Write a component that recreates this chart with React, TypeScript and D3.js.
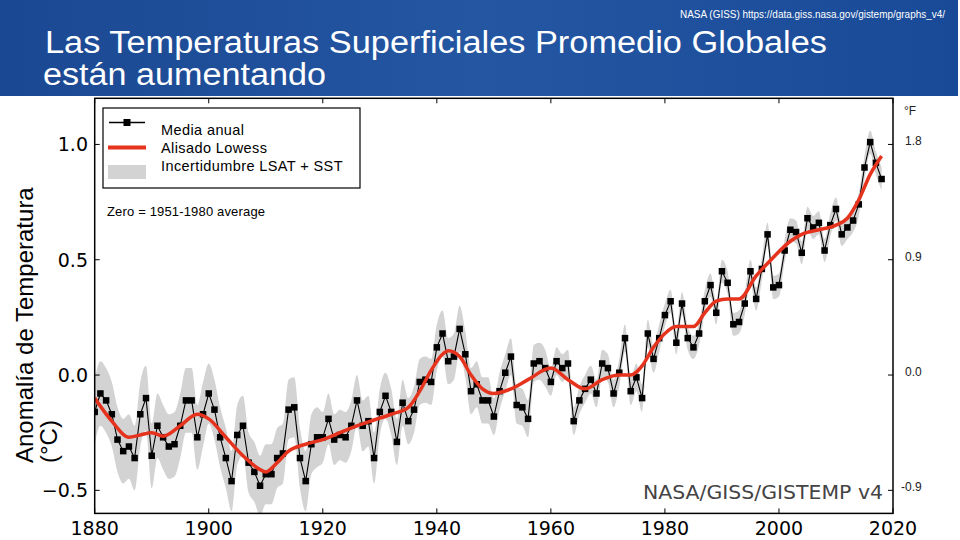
import React from 'react';
import * as d3 from 'd3';

// ---------- data ----------
const startYear = 1880;
const annualMean = [
  -0.16, -0.08, -0.11, -0.17, -0.28, -0.33, -0.31, -0.36, -0.17, -0.10,
  -0.35, -0.22, -0.27, -0.31, -0.30, -0.22, -0.11, -0.11, -0.27, -0.17,
  -0.08, -0.15, -0.27, -0.36, -0.46, -0.26, -0.22, -0.38, -0.42, -0.48,
  -0.43, -0.43, -0.36, -0.34, -0.15, -0.14, -0.36, -0.46, -0.30, -0.27,
  -0.27, -0.19, -0.28, -0.26, -0.27, -0.22, -0.11, -0.22, -0.20, -0.36,
  -0.16, -0.09, -0.16, -0.29, -0.12, -0.20, -0.15, -0.03, -0.02, -0.03,
  0.12, 0.18, 0.06, 0.08, 0.20, 0.09, -0.07, -0.04, -0.11, -0.11,
  -0.18, -0.07, 0.01, 0.08, -0.13, -0.14, -0.19, 0.05, 0.06, 0.03,
  -0.03, 0.06, 0.03, 0.05, -0.20, -0.11, -0.06, -0.02, -0.08, 0.05,
  0.03, -0.08, 0.01, 0.16, -0.07, -0.01, -0.10, 0.18, 0.07, 0.16,
  0.26, 0.32, 0.14, 0.31, 0.16, 0.12, 0.18, 0.32, 0.39, 0.27,
  0.45, 0.40, 0.22, 0.23, 0.31, 0.45, 0.33, 0.46, 0.61, 0.38,
  0.39, 0.54, 0.63, 0.62, 0.53, 0.68, 0.64, 0.66, 0.54, 0.65,
  0.72, 0.61, 0.64, 0.67, 0.74, 0.90, 1.01, 0.92, 0.85,
];

const lowessYears = [
  1880, 1883, 1886, 1888, 1890, 1892, 1895, 1898, 1900, 1903, 1906, 1909, 1910,
  1912, 1914, 1917, 1920, 1923, 1926, 1929, 1932, 1935, 1937, 1939, 1941, 1942,
  1944, 1946, 1948, 1950, 1953, 1956, 1960, 1963, 1966, 1969, 1972, 1974, 1976,
  1978, 1980, 1982, 1985, 1987, 1989, 1991, 1993, 1996, 1999, 2002, 2004, 2007,
  2010, 2012, 2014, 2016, 2018,
];
const lowessValues = [
  -0.10, -0.20, -0.27, -0.26, -0.25, -0.265, -0.22, -0.17, -0.19, -0.27, -0.35, -0.41, -0.42,
  -0.38, -0.33, -0.30, -0.28, -0.25, -0.22, -0.195, -0.17, -0.14, -0.07, 0.02, 0.09, 0.105,
  0.08, 0.00, -0.06, -0.08, -0.06, -0.02, 0.03, -0.02, -0.06, -0.02, 0.00, 0.00, 0.04,
  0.12, 0.18, 0.21, 0.21, 0.27, 0.32, 0.33, 0.33, 0.43, 0.51, 0.58, 0.61, 0.63,
  0.65, 0.68, 0.76, 0.87, 0.95,
];

const uncertaintyDecades = [1880, 1890, 1900, 1910, 1920, 1930, 1940, 1950, 1960, 1970, 1980, 1990, 2000, 2010];
const uncertaintyHalfWidth = [0.14, 0.14, 0.13, 0.13, 0.11, 0.10, 0.10, 0.08, 0.06, 0.06, 0.05, 0.05, 0.05, 0.05];

const xTicks = [1880, 1900, 1920, 1940, 1960, 1980, 2000, 2020];
const yTicksC = [-0.5, 0.0, 0.5, 1.0];
const yTicksF = [-0.9, 0.0, 0.9, 1.8];

const legendLabels = ['Media anual', 'Alisado Lowess', 'Incertidumbre LSAT + SST'];
const titleLines = ['Las Temperaturas Superficiales Promedio Globales', 'están aumentando'];
const sourceText = 'NASA (GISS) https://data.giss.nasa.gov/gistemp/graphs_v4/';

// ---------- layout ----------
const W = 960;
const H = 540;
const plotLeft = 94.7;
const plotRight = 893;
const plotTop = 98.3;
const plotBottom = 513.4;

const RED = '#e5331d';
const BAND = '#d3d3d3';

export default function App() {
  const x = d3.scaleLinear().domain([1880, 2020]).range([plotLeft, plotRight]);
  const y = d3.scaleLinear().domain([-0.6, 1.2]).range([plotBottom, plotTop]);

  const annual = annualMean.map((v, i) => ({ year: startYear + i, v }));
  const halfWidth = (yr: number) => {
    const idx = uncertaintyDecades.findIndex((d) => yr >= d && yr < d + 10);
    return uncertaintyHalfWidth[idx >= 0 ? idx : uncertaintyHalfWidth.length - 1];
  };

  const bandArea = d3
    .area<{ year: number; v: number }>()
    .x((d) => x(d.year))
    .y0((d) => y(d.v - halfWidth(d.year)))
    .y1((d) => y(d.v + halfWidth(d.year)))
    .curve(d3.curveMonotoneX);

  const annualLine = d3
    .line<{ year: number; v: number }>()
    .x((d) => x(d.year))
    .y((d) => y(d.v));

  const lowess = lowessYears.map((yr, i) => ({ year: yr, v: lowessValues[i] }));
  const lowessLine = d3
    .line<{ year: number; v: number }>()
    .x((d) => x(d.year))
    .y((d) => y(d.v))
    .curve(d3.curveMonotoneX);

  const fToC = (f: number) => f / 1.8;
  const ms = 6.5;

  return (
    <svg
      width={W}
      height={H}
      viewBox={`0 0 ${W} ${H}`}
      style={{ position: 'absolute', left: 0, top: 0, background: '#fff' }}
    >
      <defs>
        <linearGradient id="hdr" x1="0" x2="1" y1="0" y2="0">
          <stop offset="0" stopColor="#1b4892" />
          <stop offset="0.5" stopColor="#2456a2" />
          <stop offset="1" stopColor="#184a98" />
        </linearGradient>
        <clipPath id="plotClip">
          <rect x={plotLeft} y={plotTop} width={plotRight - plotLeft} height={plotBottom - plotTop} />
        </clipPath>
      </defs>

      {/* header */}
      <rect x={0} y={0} width={958} height={96} fill="url(#hdr)" />
      <text
        x={680}
        y={18}
        fill="#fff"
        fontFamily="Liberation Sans, Arial, sans-serif"
        fontSize={10}
        textLength={265}
        lengthAdjust="spacingAndGlyphs"
      >
        {sourceText}
      </text>
      <text
        x={45}
        y={53}
        fill="#fff"
        fontFamily="Liberation Sans, Arial, sans-serif"
        fontSize={31}
        textLength={782}
        lengthAdjust="spacingAndGlyphs"
      >
        {titleLines[0]}
      </text>
      <text
        x={43}
        y={85}
        fill="#fff"
        fontFamily="Liberation Sans, Arial, sans-serif"
        fontSize={31}
        textLength={283}
        lengthAdjust="spacingAndGlyphs"
      >
        {titleLines[1]}
      </text>

      {/* data */}
      <g clipPath="url(#plotClip)">
        <path d={bandArea(annual) ?? ''} fill={BAND} stroke="none" />
        <path d={annualLine(annual) ?? ''} fill="none" stroke="#000" strokeWidth={1.1} />
        {annual.map((d) => (
          <rect key={d.year} x={x(d.year) - ms / 2} y={y(d.v) - ms / 2} width={ms} height={ms} fill="#000" />
        ))}
        <path d={lowessLine(lowess) ?? ''} fill="none" stroke={RED} strokeWidth={3.5} strokeLinecap="butt" />
      </g>

      {/* frame */}
      <rect
        x={plotLeft}
        y={plotTop}
        width={plotRight - plotLeft}
        height={plotBottom - plotTop}
        fill="none"
        stroke="#000"
        strokeWidth={1.5}
      />

      {/* x ticks */}
      {xTicks.map((t) => (
        <g key={t}>
          <line x1={x(t)} x2={x(t)} y1={plotBottom} y2={plotBottom - 5} stroke="#000" strokeWidth={1} />
          <line x1={x(t)} x2={x(t)} y1={plotTop} y2={plotTop + 5} stroke="#000" strokeWidth={1} />
          <text
            x={x(t)}
            y={535}
            textAnchor="middle"
            fontFamily="DejaVu Sans, sans-serif"
            fontSize={19}
            fill="#000"
          >
            {t}
          </text>
        </g>
      ))}

      {/* left y ticks */}
      {yTicksC.map((t) => (
        <g key={t}>
          <line x1={plotLeft} x2={plotLeft + 5} y1={y(t)} y2={y(t)} stroke="#000" strokeWidth={1} />
          <text
            x={88}
            y={y(t)}
            dy="0.36em"
            textAnchor="end"
            fontFamily="DejaVu Sans, sans-serif"
            fontSize={19}
            fill="#000"
          >
            {t < 0 ? '\u2212' + Math.abs(t).toFixed(1) : t.toFixed(1)}
          </text>
        </g>
      ))}

      {/* right °F ticks */}
      {yTicksF.map((t) => (
        <g key={t}>
          <line x1={plotRight} x2={plotRight - 5} y1={y(fToC(t))} y2={y(fToC(t))} stroke="#000" strokeWidth={1} />
          <text
            x={t < 0 ? 901 : 905}
            y={y(fToC(t)) + 1}
            fontFamily="Liberation Sans, Arial, sans-serif"
            fontSize={12}
            fill="#222"
          >
            {t.toFixed(1)}
          </text>
        </g>
      ))}
      <text x={904} y={115} fontFamily="Liberation Sans, Arial, sans-serif" fontSize={12} fill="#222">
        °F
      </text>

      {/* y-axis title */}
      <text
        transform="translate(33,463) rotate(-90)"
        fontFamily="Liberation Sans, Arial, sans-serif"
        fontSize={24}
        fill="#000"
      >
        Anomalía de Temperatura
      </text>
      <text
        transform="translate(57,463) rotate(-90)"
        fontFamily="Liberation Sans, Arial, sans-serif"
        fontSize={24}
        fill="#000"
      >
        (°C)
      </text>

      {/* legend */}
      <rect x={103} y={108} width={257} height={80} fill="#fff" stroke="#000" strokeWidth={1.2} />
      <line x1={109} x2={145} y1={122.5} y2={122.5} stroke="#000" strokeWidth={1.5} />
      <rect x={127 - 3.5} y={122.5 - 3.5} width={7} height={7} fill="#000" />
      <line x1={108} x2={146} y1={147.5} y2={147.5} stroke={RED} strokeWidth={4} />
      <rect x={108} y={165} width={38} height={14} fill={BAND} />
      {legendLabels.map((l, i) => (
        <text
          key={l}
          x={161}
          y={135 + i * 18}
          fontFamily="Liberation Sans, Arial, sans-serif"
          fontSize={14.5}
          fill="#000"
          letterSpacing={0.4}
        >
          {l}
        </text>
      ))}

      <text
        x={107}
        y={216}
        fontFamily="Liberation Sans, Arial, sans-serif"
        fontSize={13}
        fill="#000"
        textLength={158}
        lengthAdjust="spacing"
      >
        Zero = 1951-1980 average
      </text>

      <text
        x={643}
        y={499}
        fontFamily="DejaVu Sans, sans-serif"
        fontSize={20}
        fill="#444"
        textLength={240}
        lengthAdjust="spacingAndGlyphs"
      >
        NASA/GISS/GISTEMP v4
      </text>
    </svg>
  );
}
